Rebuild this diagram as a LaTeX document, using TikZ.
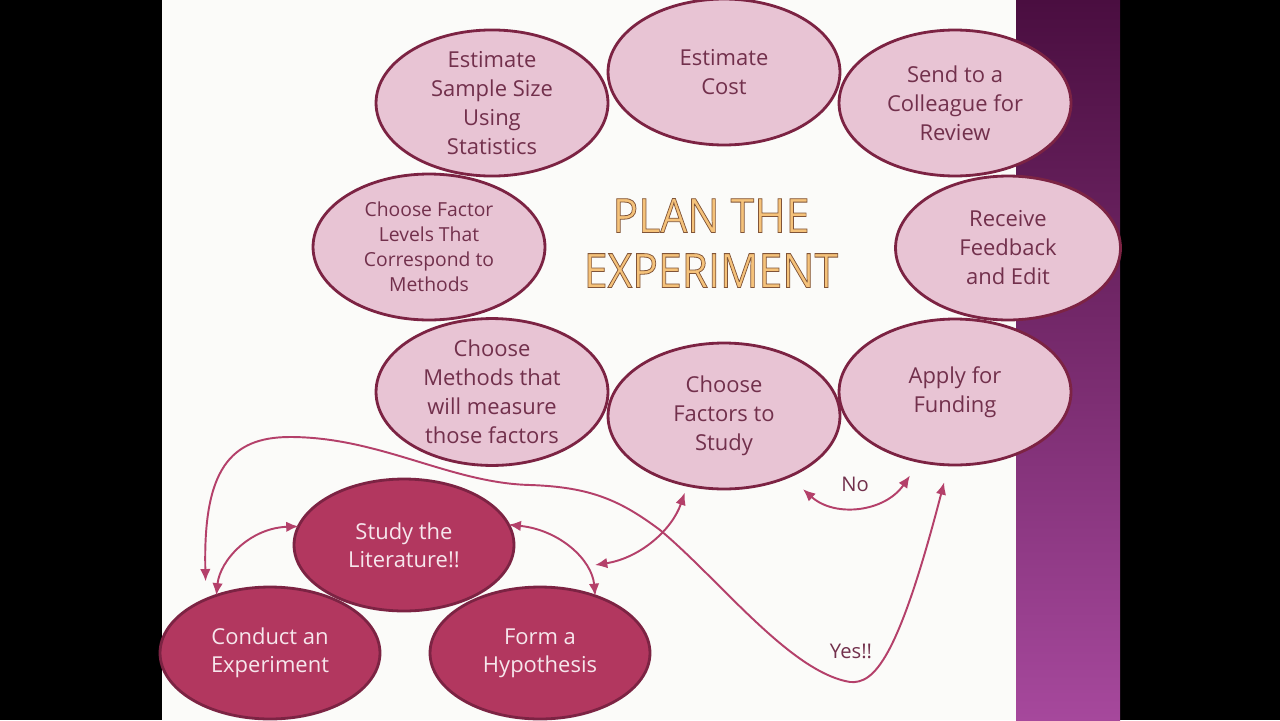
\documentclass[tikz,border=0pt]{standalone}
\usepackage{fontspec}
\setmainfont{Open Sans}
\usepackage{tikz}
\usetikzlibrary{shapes.geometric,arrows.meta}
\usepackage{xcolor}
\definecolor{slidecolor}{HTML}{FBFBF9}
\definecolor{planfill}{HTML}{E8C4D4}
\definecolor{planline}{HTML}{7C2343}
\definecolor{plantext}{HTML}{72304C}
\definecolor{loopfill}{HTML}{B2375F}
\definecolor{looptext}{HTML}{F6E6EC}
\definecolor{linkcolor}{HTML}{B4406A}
\definecolor{stripdark}{HTML}{4A0E40}
\definecolor{striplight}{HTML}{A6489C}
\definecolor{titlefill}{HTML}{F5C27A}
% outlined title letters: fill with the current colour, stroke in brown
\newcommand{\outlined}[1]{\special{pdf:literal direct 2 Tr 0.45 w 0.50 0.33 0.22 RG}#1\special{pdf:literal direct 0 Tr}}

\begin{document}
\begin{tikzpicture}[
    x=0.02cm, y=-0.02cm,
    planstep/.style={ellipse, draw=planline, line width=1.6pt, fill=planfill, minimum width=4.64cm, minimum height=2.92cm, inner sep=0pt, outer sep=0pt, align=center, text=plantext, font=\fontsize{12.5}{16.5}\selectfont},
    loopstep/.style={ellipse, draw=planline, line width=1.6pt, fill=loopfill, minimum width=4.4cm, minimum height=2.64cm, inner sep=0pt, outer sep=0pt, align=center, text=looptext, font=\fontsize{12.5}{16}\selectfont},
    link/.style={draw=linkcolor, line width=1.1pt, {Latex[length=7pt,width=6pt]}-{Latex[length=7pt,width=6pt]}},
    answer/.style={text=plantext, font=\fontsize{11.5}{14}\selectfont},
]
    % Slide background
    \useasboundingbox (0,0) rectangle (1280,720);
    \fill[black] (0,0) rectangle (1280,720);
    \fill[slidecolor] (162,0) rectangle (1016,720);
    \shade[top color=stripdark, bottom color=striplight] (1016,0) rectangle (1120,720);

    % Title
    \node[font=\fontsize{27}{31.3}\selectfont, align=center, text=titlefill, xscale=0.9, transform shape] (title) at (711,243)
        {\outlined{PLAN THE}\\\outlined{EXPERIMENT}};

    % Planning steps
    \node[planstep] (samplesize) at (492,103) {Estimate\\Sample Size\\Using\\Statistics};
    \node[planstep] (cost) at (724,72) {Estimate\\Cost};
    \node[planstep] (colleague) at (955,103) {Send to a\\Colleague for\\Review};
    \node[planstep, font=\fontsize{11}{14.2}\selectfont] (levels) at (429,247) {Choose Factor\\Levels That\\Correspond to\\Methods};
    \node[planstep, minimum width=4.5cm, minimum height=2.88cm] (feedback) at (1008,248) {Receive\\Feedback\\and Edit};
    \node[planstep] (methods) at (492,392) {Choose\\Methods that\\will measure\\those factors};
    \node[planstep] (factors) at (724,416) {Choose\\Factors to\\Study};
    \node[planstep] (funding) at (955,392) {Apply for\\Funding};

    % Research cycle
    \node[loopstep] (literature) at (404,545) {Study the\\Literature!!};
    \node[loopstep] (conduct) at (270,653) {Conduct an\\Experiment};
    \node[loopstep] (hypothesis) at (540,653) {Form a\\Hypothesis};
    \coordinate (cyclegap) at (595,565);

    % Arrows
    \draw[link] (conduct.133) .. controls (220,560) and (250,528) .. (literature.170);
    \draw[link] (literature.11) .. controls (560,530) and (592,560) .. (hypothesis.46);
    \draw[link, shorten >=4.5pt] (cyclegap) .. controls (640,558) and (672,530) .. (factors.242);
    \draw[link, shorten <=0.38cm, shorten >=0.34cm] (factors.-43) .. controls (835,518) and (885,512) .. (funding.243);
    \node[answer] (no) at (855,484) {No};
    \draw[link, shorten <=0.36cm, shorten >=0.36cm] (conduct.140)
        .. controls (203,470) and (230,437) .. (290,437)
        .. controls (380,437) and (450,483) .. (530,485)
        .. controls (590,487) and (620,500) .. (660,530)
        .. controls (720,580) and (790,672) .. (850,682)
        .. controls (874,684) and (898,660) .. (funding.265);
    \node[answer] (yes) at (851,651) {Yes!!};
\end{tikzpicture}
\end{document}
